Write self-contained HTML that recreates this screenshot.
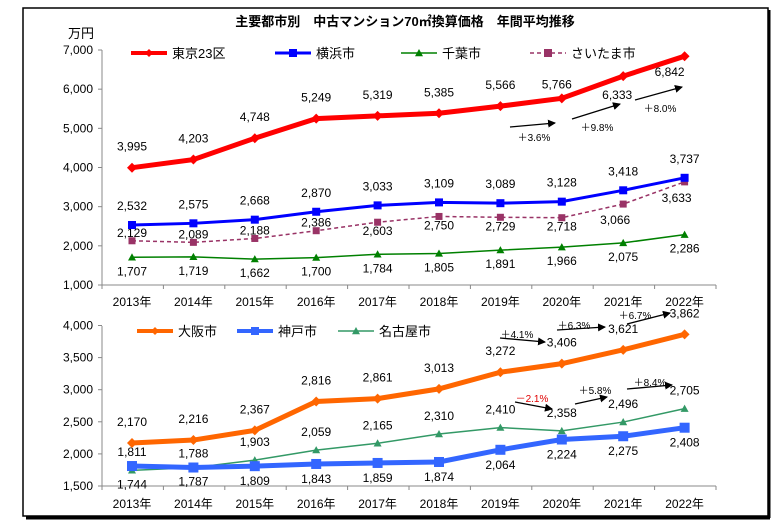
<!DOCTYPE html>
<html><head><meta charset="utf-8"><style>
body{margin:0;background:#fff;}
svg text{font-family:"Liberation Sans","Noto Sans CJK JP",sans-serif;}
</style></head><body>
<svg width="776" height="523" xmlns="http://www.w3.org/2000/svg">
<rect x="23" y="8" width="745" height="508" fill="#fff" stroke="#000" stroke-width="1.5"/>
<line x1="26" y1="518" x2="770" y2="518" stroke="#000" stroke-width="3"/>
<line x1="769" y1="10" x2="769" y2="518" stroke="#000" stroke-width="3"/>
<text x="405" y="26" font-size="13" font-weight="bold" text-anchor="middle">主要都市別　中古マンション70㎡換算価格　年間平均推移</text>
<text x="68" y="38" font-size="13">万円</text>
<g id="g"></g>
</svg>
<script>
const years=["2013年","2014年","2015年","2016年","2017年","2018年","2019年","2020年","2021年","2022年"];
const topTicks=[1000,2000,3000,4000,5000,6000,7000];
const botTicks=[1500,2000,2500,3000,3500,4000];
const tokyo=[3995,4203,4748,5249,5319,5385,5566,5766,6333,6842];
const yokohama=[2532,2575,2668,2870,3033,3109,3089,3128,3418,3737];
const chiba=[1707,1719,1662,1700,1784,1805,1891,1966,2075,2286];
const saitama=[2129,2089,2188,2386,2603,2750,2729,2718,3066,3633];
const osaka=[2170,2216,2367,2816,2861,3013,3272,3406,3621,3862];
const kobe=[1811,1788,1809,1843,1859,1874,2064,2224,2275,2408];
const nagoya=[1744,1787,1903,2059,2165,2310,2410,2358,2496,2705];
const NS="http://www.w3.org/2000/svg";const G=document.getElementById('g');
function el(t,a,p){const e=document.createElementNS(NS,t);for(const k in a)e.setAttribute(k,a[k]);(p||G).appendChild(e);return e;}
const X=i=>132+i*61.4;
const Yt=v=>285-(v-1000)*(235/6000);
const Yb=v=>486-(v-1500)*(160.5/2500);
function fmt(v){return v.toLocaleString('en-US');}
function axes(Y,ticks,bottom,top,yearY,name){
  const a=el('line',{x1:102,y1:top,x2:102,y2:bottom,stroke:'#888'});
  
  const b=el('line',{x1:102,y1:bottom,x2:716,y2:bottom,stroke:'#888'});
  
  ticks.forEach(t=>{el('line',{x1:98,y1:Y(t),x2:102,y2:Y(t),stroke:'#888'});
    const tx=el('text',{x:93,y:Y(t)+4,'font-size':12,'text-anchor':'end'});tx.textContent=fmt(t);
    });
  for(let i=0;i<=10;i++){const x=102+i*61.4;el('line',{x1:x,y1:bottom,x2:x,y2:bottom+4,stroke:'#888'});}
  years.forEach((y,i)=>{const tx=el('text',{x:X(i),y:yearY,'font-size':12,'text-anchor':'middle'});tx.textContent=y;
    });
}
axes(Yt,topTicks,285,50,306,'top');
axes(Yb,botTicks,486,326,508,'bottom');
function marker(type,x,y,c,s,g){
  if(type=='d')el('polygon',{points:`${x},${y-s} ${x+s},${y} ${x},${y+s} ${x-s},${y}`,fill:c},g);
  else if(type=='s')el('rect',{x:x-s,y:y-s,width:2*s,height:2*s,fill:c},g);
  else el('polygon',{points:`${x},${y-s} ${x+s},${y+s*0.8} ${x-s},${y+s*0.8}`,fill:c},g);
}
function series(data,Y,c,w,m,ms,dash,name,offs){
  const g=el('g',{});
  const p=el('polyline',{points:data.map((v,i)=>X(i)+','+Y(v)).join(' '),fill:'none',stroke:c,'stroke-width':w,'stroke-dasharray':dash||'none'},g);
  
  data.forEach((v,i)=>{marker(m,X(i),Y(v),c,ms,g);
    const o=offs(i);const t=el('text',{x:X(i)+(o[1]||0),y:Y(v)+o[0],'font-size':12,'text-anchor':'middle'},g);t.textContent=fmt(v);
    });
}
series(chiba,Yt,'#008000',1.5,'t',4,null,'chiba',i=>[18]);
series(saitama,Yt,'#993366',1.5,'s',3.5,'4,3','saitama',i=>i<4?[-4]:(i<8?[13]:[20,-8]));
series(yokohama,Yt,'#0000ff',3,'s',4,null,'yokohama',i=>[-15]);
series(tokyo,Yt,'#ff0000',5,'d',5,null,'tokyo',i=>i==8?[23,-6]:(i==9?[20,-15]:(i==7?[-10,-5]:[-17])));
series(nagoya,Yb,'#339966',1.5,'t',4,null,'nagoya',i=>i<2?[18]:[-14]);
series(kobe,Yb,'#3366ff',5,'s',5,null,'kobe',i=>i<2?[-10]:[19]);
series(osaka,Yb,'#ff6600',5,'d',5,null,'osaka',i=>[-17]);
function legend(x,y,c,w,m,dash,label,name){
  const g=el('g',{});
  el('line',{x1:x,y1:y,x2:x+36,y2:y,stroke:c,'stroke-width':w,'stroke-dasharray':dash||'none'},g);
  marker(m,x+18,y,c,4,g);
  const t=el('text',{x:x+41,y:y+5,'font-size':13},g);t.textContent=label;
}
legend(131,53,'#ff0000',4,'d',null,'東京23区','tokyo');
legend(275,53,'#0000ff',3,'s',null,'横浜市','yokohama');
legend(401,53,'#008000',1.5,'t',null,'千葉市','chiba');
legend(530,53,'#993366',1.5,'s','4,3','さいたま市','saitama');
legend(137,331,'#ff6600',4,'d',null,'大阪市','osaka');
legend(237,331,'#3366ff',4,'s',null,'神戸市','kobe');
legend(338,331,'#339966',1.5,'t',null,'名古屋市','nagoya');
el('defs',{}).innerHTML='<marker id="ah" markerWidth="8" markerHeight="8" refX="7" refY="4" orient="auto" markerUnits="userSpaceOnUse"><path d="M0,0 L8,4 L0,8 z" fill="#000"/></marker>';
const notes=[[510,127,555,123,'＋3.6%',534,141,'#000'],[572,119,620,104,'＋9.8%',597,131,'#000'],[635,100,682,87,'＋8.0%',660,112,'#000'],
[500,338,545,342,'＋4.1%',517,338,'#000'],[557,330,605,327,'＋6.3%',574,329,'#000'],[627,324,670,313,'＋6.7%',635,319,'#000'],
[515,402,552,409,'－2.1%',532,402,'#e00000'],[575,404,607,397,'＋5.8%',595,394,'#000'],[627,389,672,385,'＋8.4%',650,386,'#000']];
notes.forEach(n=>{const l=el('line',{x1:n[0],y1:n[1],x2:n[2],y2:n[3],stroke:'#000','stroke-width':1.3,'marker-end':'url(#ah)'});
  
  const t=el('text',{x:n[5],y:n[6],'font-size':10,fill:n[7],'text-anchor':'middle'});t.textContent=n[4];
  });
</script>
</body></html>
